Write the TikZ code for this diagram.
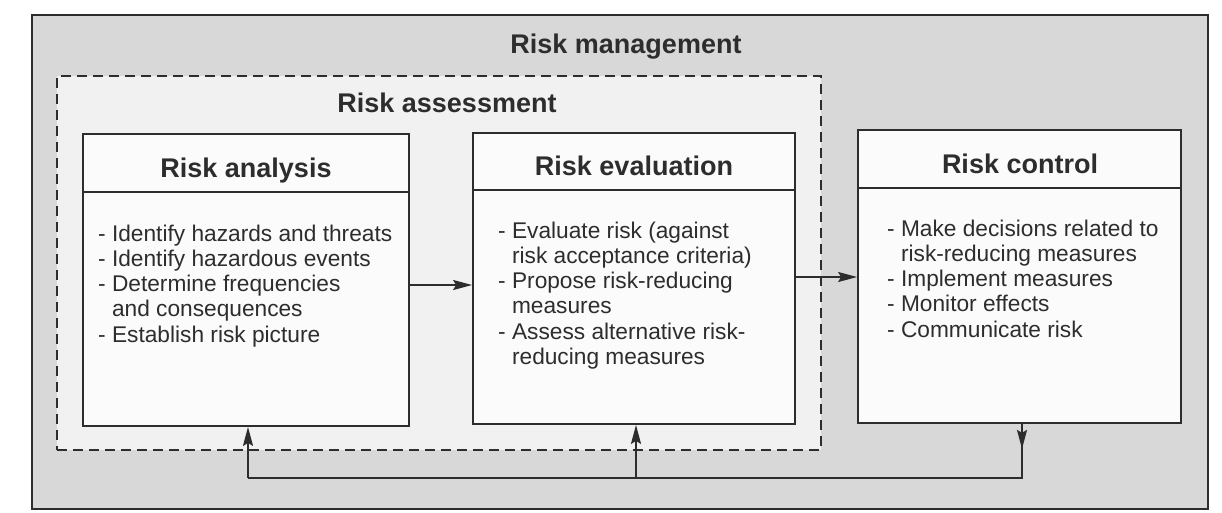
\documentclass[tikz,border=0pt]{standalone}
\usepackage{fontspec}
\setmainfont{Liberation Sans}
\usetikzlibrary{arrows.meta}
\definecolor{outerfill}{RGB}{216,216,216}
\definecolor{innerfill}{RGB}{241,241,241}
\definecolor{boxfill}{RGB}{251,251,251}
\definecolor{ink}{RGB}{45,45,45}
\begin{document}
\begin{tikzpicture}[x=1pt,y=-1pt,
  framebox/.style={rectangle, draw=ink, line width=1.8pt, inner sep=0pt},
  procbox/.style={rectangle, draw=ink, line width=1.8pt, fill=boxfill, inner sep=0pt},
  titletext/.style={font=\fontsize{27}{30}\selectfont\bfseries, text=ink, anchor=base, inner sep=0pt},
  bodytext/.style={font=\fontsize{22.7}{25.1}\selectfont, text=ink, anchor=north west, align=left, inner sep=0pt},
  arr/.style={draw=ink, line width=1.8pt, -{Stealth[length=19pt,width=10pt,inset=3pt]}},
  link/.style={draw=ink, line width=1.8pt}]
\useasboundingbox (0,0) rectangle (1222,512);
\fill[white] (0,0) rectangle (1222,512);
% outer frame: risk management
\node[framebox, fill=outerfill, minimum width=1176pt, minimum height=494pt] (mgmt) at (620,262) {};
% dashed frame: risk assessment
\node[framebox, fill=innerfill, dash pattern=on 10pt off 6pt, minimum width=764pt, minimum height=374pt] (assess) at (439,263) {};
\node[titletext] (mgmtT) at (626,53) {Risk management};
\node[titletext] (assessT) at (447,112) {Risk assessment};
% process boxes
\node[procbox, minimum width=326pt, minimum height=292pt] (ana) at (246,280) {};
\node[procbox, minimum width=322pt, minimum height=291pt] (eva) at (634,278.5) {};
\node[procbox, minimum width=323pt, minimum height=293pt] (ctl) at (1019.5,276.5) {};
% header separators
\draw[link] ([yshift=-59pt]ana.north west) -- ([yshift=-59pt]ana.north east);
\draw[link] ([yshift=-58pt]eva.north west) -- ([yshift=-58pt]eva.north east);
\draw[link] ([yshift=-59pt]ctl.north west) -- ([yshift=-59pt]ctl.north east);
% headers
\node[titletext] (anaT) at (246,177) {Risk analysis};
\node[titletext] (evaT) at (634,175) {Risk evaluation};
\node[titletext] (ctlT) at (1020,173) {Risk control};
% bodies
\node[bodytext] (anaB) at (98,225) {- Identify hazards and threats\\
- Identify hazardous events\\
- Determine frequencies\\
\phantom{- }and consequences\\
- Establish risk picture};
\node[bodytext] (evaB) at (498,222) {- Evaluate risk (against\\
\phantom{- }risk acceptance criteria)\\
- Propose risk-reducing\\
\phantom{- }measures\\
- Assess alternative risk-\\
\phantom{- }reducing measures};
\node[bodytext] (ctlB) at (887,220) {- Make decisions related to\\
\phantom{- }risk-reducing measures\\
- Implement measures\\
- Monitor effects\\
- Communicate risk};
% forward arrows
\draw[arr] ([yshift=-5pt]ana.east) -- ([yshift=-5pt]ana.east -| eva.west);
\draw[arr] ([yshift=1.5pt]eva.east) -- ([yshift=1.5pt]eva.east -| ctl.west);
% feedback loop
\coordinate (fbStart) at ([xshift=2.5pt]ctl.south);
\coordinate (fbR) at (1022,478);
\coordinate (fbL) at (248,478);
\coordinate (fbM) at (636,478);
\draw[link] (fbStart) -- (fbR) -- (fbL);
\draw[arr] (fbStart) -- ++(0,25);
\draw[arr] (fbL) -- (fbL |- ana.south);
\draw[arr] (fbM) -- (fbM |- eva.south);
\end{tikzpicture}
\end{document}
